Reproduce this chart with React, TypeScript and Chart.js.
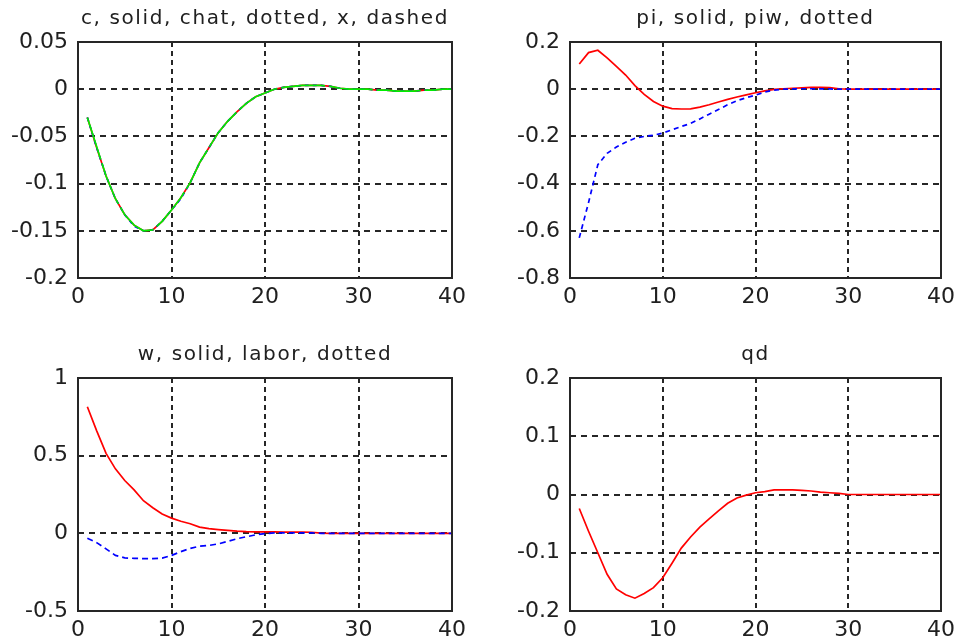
import React, { useEffect, useRef } from 'react';
import { Chart, registerables } from 'chart.js';

Chart.register(...registerables);

// Simulation periods shown on every panel
const periods = [
  1, 2, 3, 4, 5, 6, 7, 8, 9, 10,
  11, 12, 13, 14, 15, 16, 17, 18, 19, 20,
  21, 22, 23, 24, 25, 26, 27, 28, 29, 30,
  31, 32, 33, 34, 35, 36, 37, 38, 39, 40,
];

// Consumption responses
const c = [
  -0.030, -0.062, -0.092, -0.116, -0.133, -0.144, -0.150, -0.149, -0.140, -0.128,
  -0.115, -0.099, -0.078, -0.062, -0.046, -0.034, -0.024, -0.015, -0.008, -0.004,
  0.000, 0.002, 0.003, 0.004, 0.004, 0.004, 0.003, 0.001, 0.000, 0.000,
  0.000, -0.001, -0.001, -0.002, -0.002, -0.002, -0.001, -0.001, 0.000, 0.000,
];
const chat = [
  -0.030, -0.062, -0.092, -0.116, -0.133, -0.145, -0.150, -0.149, -0.140, -0.128,
  -0.116, -0.099, -0.078, -0.062, -0.046, -0.034, -0.024, -0.015, -0.008, -0.004,
  0.000, 0.002, 0.003, 0.004, 0.004, 0.004, 0.003, 0.001, 0.000, 0.000,
  0.000, -0.001, -0.001, -0.002, -0.002, -0.002, -0.001, -0.001, 0.000, 0.000,
];
const xOutput = [
  -0.030, -0.061, -0.092, -0.116, -0.133, -0.144, -0.150, -0.149, -0.140, -0.128,
  -0.115, -0.099, -0.078, -0.062, -0.046, -0.034, -0.024, -0.015, -0.008, -0.004,
  0.000, 0.002, 0.003, 0.004, 0.004, 0.004, 0.003, 0.001, 0.000, 0.000,
  0.000, -0.001, -0.001, -0.002, -0.002, -0.002, -0.001, -0.001, 0.000, 0.000,
];

// Inflation: price and wage
const piSeries = [
  0.107, 0.155, 0.165, 0.133, 0.097, 0.060, 0.015, -0.022, -0.052, -0.072,
  -0.082, -0.084, -0.083, -0.076, -0.066, -0.054, -0.043, -0.033, -0.024, -0.015,
  -0.007, -0.001, 0.002, 0.004, 0.006, 0.008, 0.008, 0.007, 0.002, 0.000,
  0.000, 0.000, 0.000, 0.000, 0.000, 0.000, 0.000, 0.000, 0.000, 0.000,
];
const piw = [
  -0.630, -0.480, -0.320, -0.272, -0.245, -0.225, -0.208, -0.200, -0.195, -0.186,
  -0.172, -0.158, -0.145, -0.126, -0.106, -0.086, -0.066, -0.049, -0.036, -0.025,
  -0.012, -0.004, 0.000, 0.001, 0.002, 0.002, 0.001, 0.001, 0.000, 0.000,
  0.000, 0.000, 0.000, 0.000, 0.000, 0.000, 0.000, 0.000, 0.000, 0.000,
];

// Real wage and labor
const wSeries = [
  0.815, 0.660, 0.515, 0.415, 0.340, 0.280, 0.210, 0.165, 0.125, 0.098,
  0.078, 0.062, 0.040, 0.030, 0.024, 0.019, 0.014, 0.011, 0.010, 0.009,
  0.009, 0.008, 0.008, 0.008, 0.007, 0.001, 0.000, 0.000, 0.000, 0.000,
  0.000, 0.000, 0.000, 0.000, 0.000, 0.000, 0.000, 0.000, 0.000, 0.000,
];
const labor = [
  -0.031, -0.060, -0.100, -0.142, -0.158, -0.161, -0.163, -0.163, -0.160, -0.142,
  -0.118, -0.097, -0.083, -0.078, -0.068, -0.052, -0.035, -0.022, -0.010, -0.002,
  0.003, 0.003, 0.003, 0.003, 0.003, 0.000, 0.000, 0.000, 0.000, 0.000,
  0.000, 0.000, 0.000, 0.000, 0.000, 0.000, 0.000, 0.000, 0.000, 0.000,
];

// Demand
const qd = [
  -0.024, -0.063, -0.100, -0.137, -0.162, -0.172, -0.178, -0.170, -0.160, -0.143,
  -0.118, -0.092, -0.073, -0.056, -0.042, -0.028, -0.015, -0.006, -0.001, 0.003,
  0.005, 0.008, 0.008, 0.008, 0.007, 0.006, 0.004, 0.003, 0.002, 0.000,
  0.000, 0.000, 0.000, 0.000, 0.000, 0.000, 0.000, 0.000, 0.000, 0.000,
];

// Axis ticks and their labels
const xTicks = [0, 10, 20, 30, 40];
const xTickLabels = ['0', '10', '20', '30', '40'];
const cTicks = [-0.2, -0.15, -0.1, -0.05, 0, 0.05];
const cTickLabels = ['-0.2', '-0.15', '-0.1', '-0.05', '0', '0.05'];
const piTicks = [-0.8, -0.6, -0.4, -0.2, 0, 0.2];
const piTickLabels = ['-0.8', '-0.6', '-0.4', '-0.2', '0', '0.2'];
const wTicks = [-0.5, 0, 0.5, 1];
const wTickLabels = ['-0.5', '0', '0.5', '1'];
const qdTicks = [-0.2, -0.1, 0, 0.1, 0.2];
const qdTickLabels = ['-0.2', '-0.1', '0', '0.1', '0.2'];

const titles = [
  'c, solid, chat, dotted, x, dashed',
  'pi, solid, piw, dotted',
  'w, solid, labor, dotted',
  'qd',
];

const INK = '#262626';
const TICK_FONT = { family: '"DejaVu Sans", sans-serif', size: 22 };

type Series = { values: number[]; color: string; dash: number[] };

type PanelProps = {
  left: number;
  top: number;
  width: number;
  height: number;
  padTop: number;
  padRight: number;
  yWidth: number;
  xHeight: number;
  title: string;
  yTicks: number[];
  yTickLabels: string[];
  series: Series[];
};

// Draws the axes box and the title centred over the plot area
const framePlugin = {
  id: 'frameAndTitle',
  afterDraw(chart: any) {
    const { ctx, chartArea } = chart;
    const title = chart.options.plugins.panelTitle?.text ?? '';
    ctx.save();
    ctx.strokeStyle = INK;
    ctx.lineWidth = 2;
    ctx.setLineDash([]);
    ctx.strokeRect(chartArea.left, chartArea.top, chartArea.right - chartArea.left, chartArea.bottom - chartArea.top);
    ctx.fillStyle = '#202020';
    ctx.font = '20px "DejaVu Sans", sans-serif';
    try {
      (ctx as any).letterSpacing = '1.6px';
    } catch (e) {
      /* ignore */
    }
    ctx.textAlign = 'center';
    ctx.textBaseline = 'alphabetic';
    ctx.fillText(title, (chartArea.left + chartArea.right) / 2, chartArea.top - 18.5);
    ctx.restore();
  },
};

function Panel(props: PanelProps) {
  const ref = useRef<HTMLCanvasElement | null>(null);

  useEffect(() => {
    if (!ref.current) return;
    const p = props;
    const n = p.series.length;
    const chart = new Chart(ref.current, {
      type: 'line',
      data: {
        datasets: p.series.map((s, i) => ({
          data: periods.map((t, k) => ({ x: t, y: s.values[k] })),
          borderColor: s.color,
          borderWidth: 1.7,
          borderDash: s.dash,
          pointRadius: 0,
          fill: false,
          tension: 0,
          order: n - i,
        })),
      },
      options: {
        responsive: false,
        animation: false,
        events: [],
        layout: { padding: { top: p.padTop, right: p.padRight, left: 0, bottom: 0 } },
        plugins: {
          legend: { display: false },
          tooltip: { enabled: false },
          title: { display: false },
          // @ts-ignore
          panelTitle: { text: p.title },
        },
        scales: {
          x: {
            type: 'linear',
            min: 0,
            max: 40,
            afterBuildTicks: (scale: any) => {
              scale.ticks = xTicks.map((v) => ({ value: v }));
            },
            afterFit: (scale: any) => {
              scale.height = p.xHeight;
            },
            grid: { color: INK, lineWidth: 2, drawTicks: false },
            border: { display: false, dash: [5, 4] },
            ticks: {
              autoSkip: false,
              maxRotation: 0,
              padding: 6,
              color: '#202020',
              font: TICK_FONT,
              callback: (_v: any, i: number) => xTickLabels[i],
            },
          },
          y: {
            type: 'linear',
            min: p.yTicks[0],
            max: p.yTicks[p.yTicks.length - 1],
            afterBuildTicks: (scale: any) => {
              scale.ticks = p.yTicks.map((v) => ({ value: v }));
            },
            afterFit: (scale: any) => {
              scale.width = p.yWidth;
            },
            grid: { color: INK, lineWidth: 2, drawTicks: false },
            border: { display: false, dash: [6, 5] },
            ticks: {
              autoSkip: false,
              padding: 10,
              color: '#202020',
              font: TICK_FONT,
              callback: (_v: any, i: number) => p.yTickLabels[i],
            },
          },
        },
      } as any,
      plugins: [framePlugin],
    });
    return () => chart.destroy();
  }, []);

  return (
    <canvas
      ref={ref}
      width={props.width}
      height={props.height}
      style={{ position: 'absolute', left: props.left, top: props.top, width: props.width, height: props.height }}
    />
  );
}

export default function App() {
  return (
    <div style={{ position: 'fixed', left: 0, top: 0, width: 961, height: 643, background: '#ffffff', overflow: 'hidden' }}>
      <Panel
        left={0}
        top={0}
        width={480}
        height={320}
        padTop={42}
        padRight={28}
        yWidth={78}
        xHeight={42}
        title={titles[0]}
        yTicks={cTicks}
        yTickLabels={cTickLabels}
        series={[
          { values: c, color: '#ff0000', dash: [] },
          { values: chat, color: '#0000ff', dash: [4, 4] },
          { values: xOutput, color: '#00ee00', dash: [44, 4] },
        ]}
      />
      <Panel
        left={480}
        top={0}
        width={481}
        height={320}
        padTop={42}
        padRight={15}
        yWidth={90}
        xHeight={42}
        title={titles[1]}
        yTicks={piTicks}
        yTickLabels={piTickLabels}
        series={[
          { values: piSeries, color: '#ff0000', dash: [] },
          { values: piw, color: '#0000ff', dash: [5, 4] },
        ]}
      />
      <Panel
        left={0}
        top={320}
        width={480}
        height={323}
        padTop={58}
        padRight={28}
        yWidth={78}
        xHeight={32}
        title={titles[2]}
        yTicks={wTicks}
        yTickLabels={wTickLabels}
        series={[
          { values: wSeries, color: '#ff0000', dash: [] },
          { values: labor, color: '#0000ff', dash: [6, 4] },
        ]}
      />
      <Panel
        left={480}
        top={320}
        width={481}
        height={323}
        padTop={58}
        padRight={15}
        yWidth={90}
        xHeight={32}
        title={titles[3]}
        yTicks={qdTicks}
        yTickLabels={qdTickLabels}
        series={[{ values: qd, color: '#ff0000', dash: [] }]}
      />
    </div>
  );
}
